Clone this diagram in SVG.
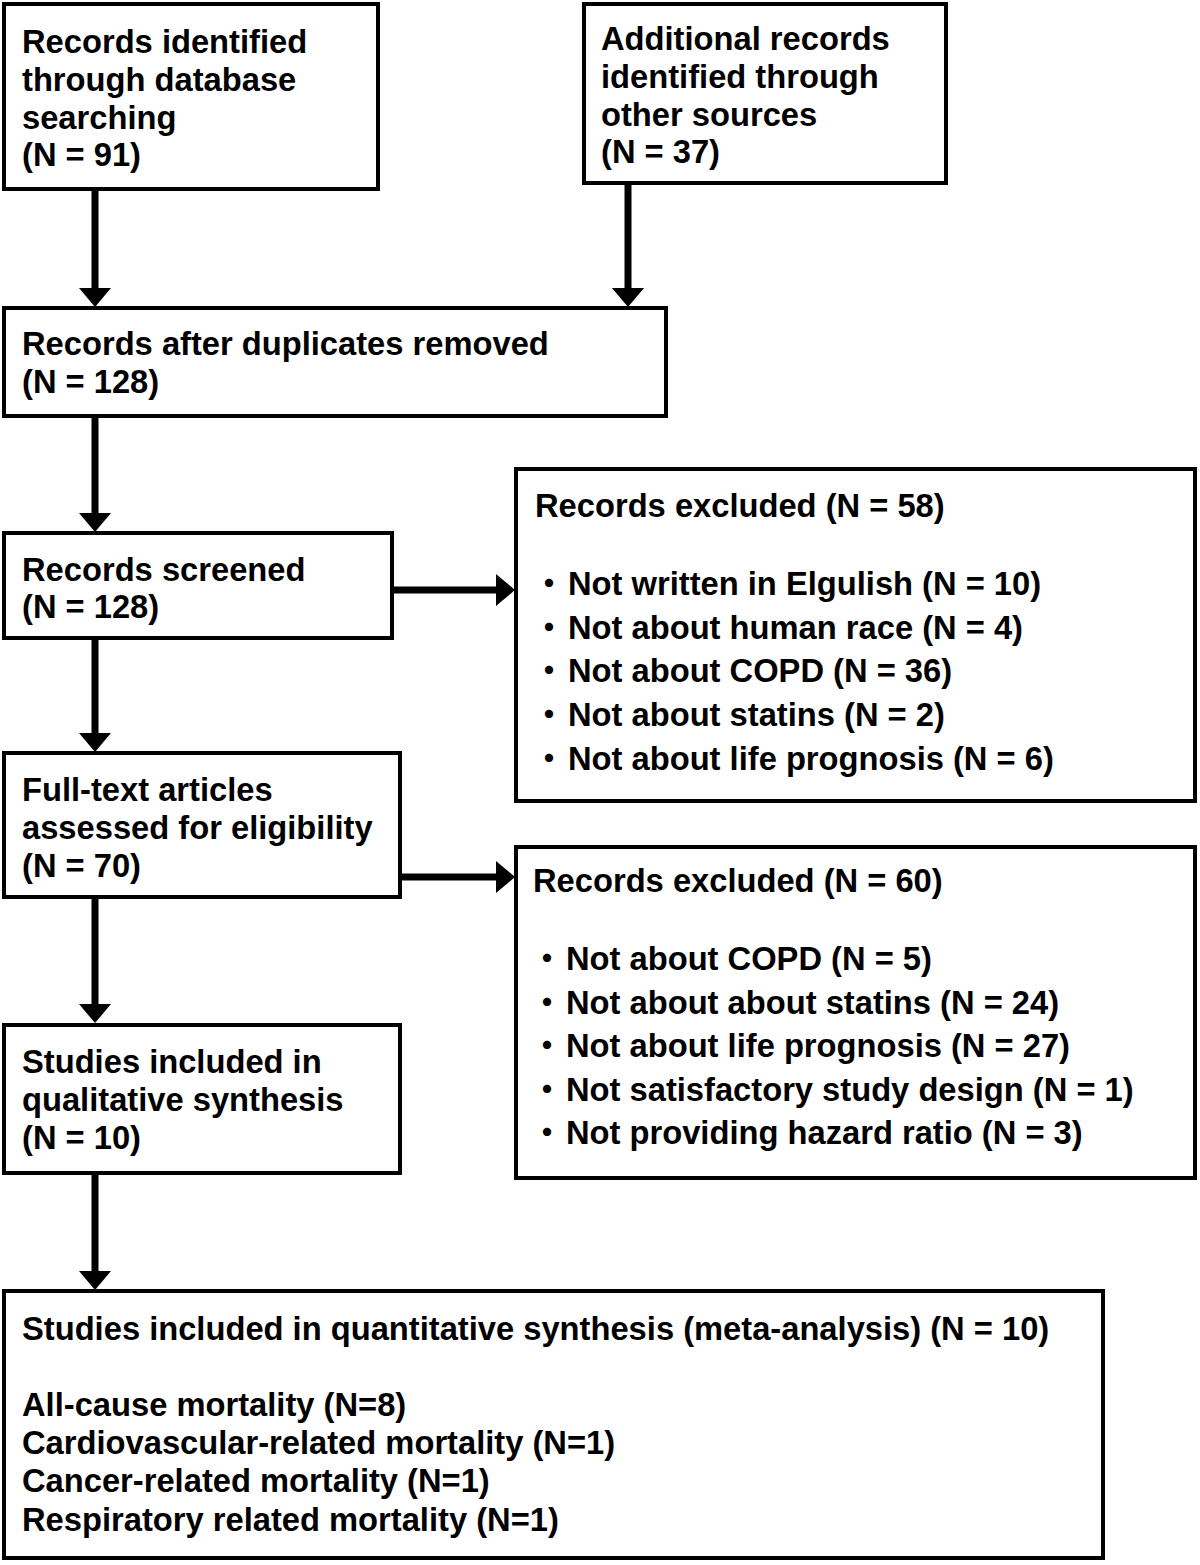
<svg xmlns="http://www.w3.org/2000/svg" width="1200" height="1565" viewBox="0 0 1200 1565">
<style>
.box{fill:#fff;stroke:#000;stroke-width:4}
.t{font-family:"Liberation Sans",Arial,sans-serif;font-weight:bold;font-size:32.7px;fill:#000}
.b{font-family:"Liberation Sans","Noto Sans CJK JP",sans-serif;font-weight:bold;font-size:32px;fill:#000}
.c{stroke:#000;stroke-width:7;fill:none}
.h{fill:#000}
</style>
<rect width="1200" height="1565" fill="#fff"/>
<g id="connectors">
<line class="c" x1="95" y1="189" x2="95" y2="290"/><polygon class="h" points="79,288 111,288 95,307"/>
<line class="c" x1="628" y1="183" x2="628" y2="290"/><polygon class="h" points="612,288 644,288 628,307"/>
<line class="c" x1="95" y1="416" x2="95" y2="515"/><polygon class="h" points="79,513 111,513 95,532"/>
<line class="c" x1="95" y1="638" x2="95" y2="735"/><polygon class="h" points="79,733 111,733 95,752"/>
<line class="c" x1="95" y1="897" x2="95" y2="1006"/><polygon class="h" points="79,1004 111,1004 95,1023"/>
<line class="c" x1="95" y1="1173" x2="95" y2="1273"/><polygon class="h" points="79,1271 111,1271 95,1290"/>
<line class="c" x1="392" y1="590" x2="498" y2="590"/><polygon class="h" points="496,574 496,606 515,590"/>
<line class="c" x1="400" y1="877" x2="498" y2="877"/><polygon class="h" points="496,861 496,893 515,877"/>
</g>
<g id="n1"><rect class="box" x="4" y="4" width="374" height="185"/>
<text class="t" x="22" y="53">Records identified</text>
<text class="t" x="22" y="91">through database</text>
<text class="t" x="22" y="129">searching</text>
<text class="t" x="22" y="166">(N = 91)</text></g>
<g id="n2"><rect class="box" x="584" y="4" width="362" height="179"/>
<text class="t" x="601" y="50">Additional records</text>
<text class="t" x="601" y="88">identified through</text>
<text class="t" x="601" y="126">other sources</text>
<text class="t" x="601" y="163">(N = 37)</text></g>
<g id="n3"><rect class="box" x="4" y="308" width="662" height="108"/>
<text class="t" x="22" y="355">Records after duplicates removed</text>
<text class="t" x="22" y="393">(N = 128)</text></g>
<g id="n4"><rect class="box" x="4" y="533" width="388" height="105"/>
<text class="t" x="22" y="581">Records screened</text>
<text class="t" x="22" y="618">(N = 128)</text></g>
<g id="n5"><rect class="box" x="516" y="469" width="679" height="332"/>
<text class="t" x="535" y="517">Records excluded (N = 58)</text>
<text class="b" x="533" y="595">・</text><text class="t" x="568" y="595">Not written in Elgulish (N = 10)</text>
<text class="b" x="533" y="639">・</text><text class="t" x="568" y="639">Not about human race (N = 4)</text>
<text class="b" x="533" y="682">・</text><text class="t" x="568" y="682">Not about COPD (N = 36)</text>
<text class="b" x="533" y="726">・</text><text class="t" x="568" y="726">Not about statins (N = 2)</text>
<text class="b" x="533" y="770">・</text><text class="t" x="568" y="770">Not about life prognosis (N = 6)</text></g>
<g id="n6"><rect class="box" x="4" y="753" width="396" height="144"/>
<text class="t" x="22" y="801">Full-text articles</text>
<text class="t" x="22" y="839">assessed for eligibility</text>
<text class="t" x="22" y="877">(N = 70)</text></g>
<g id="n7"><rect class="box" x="516" y="847" width="679" height="331"/>
<text class="t" x="533" y="892">Records excluded (N = 60)</text>
<text class="b" x="531" y="970">・</text><text class="t" x="566" y="970">Not about COPD (N = 5)</text>
<text class="b" x="531" y="1014">・</text><text class="t" x="566" y="1014">Not about about statins (N = 24)</text>
<text class="b" x="531" y="1057">・</text><text class="t" x="566" y="1057">Not about life prognosis (N = 27)</text>
<text class="b" x="531" y="1101">・</text><text class="t" x="566" y="1101">Not satisfactory study design (N = 1)</text>
<text class="b" x="531" y="1144">・</text><text class="t" x="566" y="1144">Not providing hazard ratio (N = 3)</text></g>
<g id="n8"><rect class="box" x="4" y="1025" width="396" height="148"/>
<text class="t" x="22" y="1073">Studies included in</text>
<text class="t" x="22" y="1111">qualitative synthesis</text>
<text class="t" x="22" y="1149">(N = 10)</text></g>
<g id="n9"><rect class="box" x="4" y="1291" width="1099" height="267"/>
<text class="t" x="22" y="1340">Studies included in quantitative synthesis (meta-analysis) (N = 10)</text>
<text class="t" x="22" y="1416">All-cause mortality (N=8)</text>
<text class="t" x="22" y="1454">Cardiovascular-related mortality (N=1)</text>
<text class="t" x="22" y="1492">Cancer-related mortality (N=1)</text>
<text class="t" x="22" y="1531">Respiratory related mortality (N=1)</text></g>
</svg>
